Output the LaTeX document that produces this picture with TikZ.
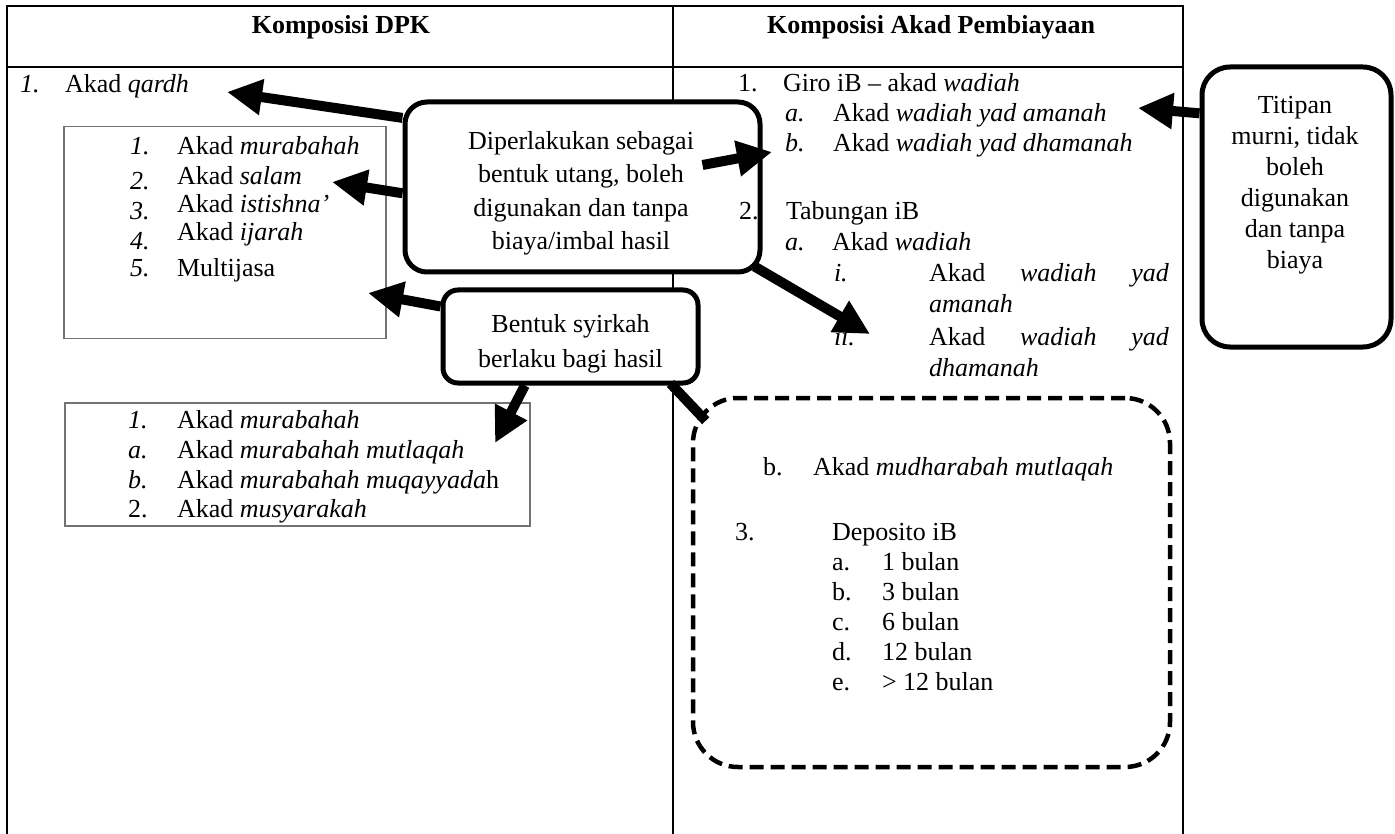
\documentclass[tikz,border=0pt]{standalone}
\usepackage{fontspec}
\setmainfont{Liberation Serif}
\usetikzlibrary{arrows.meta,calc}
\begin{document}
\begin{tikzpicture}[x=1pt,y=-1pt,
  tx/.style={anchor=base west,inner sep=0pt,outer sep=0pt,font=\fontsize{26}{30}\selectfont},
  hdr/.style={anchor=base,inner sep=0pt,font=\fontsize{26}{30}\selectfont\bfseries},
  tbl/.style={line width=1.6pt},
  listbox/.style={draw=black!55,line width=1.2pt,inner sep=0pt},
  callout/.style={draw,line width=5pt,fill=white,inner sep=0pt},
  ctext/.style={align=center,inner sep=0pt},
  dashbox/.style={draw,line width=4.5pt,dash pattern=on 14pt off 7pt,rounded corners=45pt,inner sep=0pt},
  arr/.style={line width=10pt,-{Triangle[length=35pt,width=34pt]}},
  bar/.style={line width=10pt}
]
\useasboundingbox (0,0) rectangle (1395,834);
\fill[white] (0,0) rectangle (1395,834);

% table
\draw[tbl] (7,834) -- (7,6) -- (1183,6) -- (1183,834);
\draw[tbl] (7,67) -- (1183,67);
\draw[tbl] (673,6) -- (673,834);

% boxes
\node[listbox,minimum width=322pt,minimum height=212pt] (lb1) at (225,232.5) {};
\node[listbox,minimum width=465pt,minimum height=123pt] (lb2) at (297.5,464.5) {};
\node[callout,rounded corners=22pt,minimum width=355pt,minimum height=170pt] (dip) at (582.5,187) {};
\node[callout,rounded corners=15pt,minimum width=255pt,minimum height=93pt] (bent) at (570.5,336.5) {};
\node[callout,rounded corners=28pt,minimum width=189pt,minimum height=280pt] (tit) at (1296.5,207) {};
\node[dashbox,minimum width=477pt,minimum height=369pt] (dbox) at (931.5,582.5) {};

% callout texts
\node[ctext,font=\fontsize{26}{33.5}\selectfont] (dipt) at (581,193.5)
  {Diperlakukan sebagai\\bentuk utang, boleh\\digunakan dan tanpa\\biaya/imbal hasil};
\node[ctext,font=\fontsize{26}{35}\selectfont] (bentt) at (570.5,343.3)
  {Bentuk syirkah\\berlaku bagi hasil};
\node[ctext,font=\fontsize{26}{31}\selectfont] (titt) at (1295,185.4)
  {Titipan\\murni, tidak\\boleh\\digunakan\\dan tanpa\\biaya};

% headers
\node[hdr] (hl) at (341,34) {Komposisi DPK};
\node[hdr] (hr) at (931,34) {Komposisi Akad Pembiayaan};

% left column
\node[tx] (q0) at (20,93) {\textit{1.}};
\node[tx] (qardh) at (65,93) {Akad \textit{qardh}};

\node[tx] (m1n) at (130,155) {\textit{1.}};
\node[tx] (m1) at (177,155) {Akad \textit{murabahah}};
\node[tx] (m2n) at (130,190) {\textit{2.}};
\node[tx] (m2) at (177,185) {Akad \textit{salam}};
\node[tx] (m3n) at (130,220) {\textit{3.}};
\node[tx] (m3) at (177,213) {Akad \textit{istishna'}};
\node[tx] (m4n) at (130,250) {\textit{4.}};
\node[tx] (m4) at (177,241) {Akad \textit{ijarah}};
\node[tx] (m5n) at (130,277) {\textit{5.}};
\node[tx] (m5) at (177,277) {Multijasa};

\node[tx] (s1n) at (128,428) {\textit{1.}};
\node[tx] (s1) at (177,428) {Akad \textit{murabahah}};
\node[tx] (s2n) at (128,458) {\textit{a.}};
\node[tx] (s2) at (177,458) {Akad \textit{murabahah mutlaqah}};
\node[tx] (s3n) at (128,488) {\textit{b.}};
\node[tx] (s3) at (177,488) {Akad \textit{murabahah muqayyada}h};
\node[tx] (s4n) at (128,517) {2.};
\node[tx] (s4) at (177,517) {Akad \textit{musyarakah}};

% right column
\node[tx] (g0) at (738,92) {1.};
\node[tx] (g1) at (783,92) {Giro iB -- akad \textit{wadiah}};
\node[tx] (ga) at (785,122) {\textit{a.}};
\node[tx] (gat) at (833,122) {Akad \textit{wadiah yad amanah}};
\node[tx] (gb) at (785,152) {\textit{b.}};
\node[tx] (gbt) at (833,152) {Akad \textit{wadiah yad dhamanah}};

\node[tx] (t0) at (739,220) {2.};
\node[tx] (t1) at (786,220) {Tabungan iB};
\node[tx] (ta) at (785,251) {\textit{a.}};
\node[tx] (tat) at (832,251) {Akad \textit{wadiah}};
\node[tx] (ti) at (834,282) {\textit{i.}};
\node[tx] (tit1) at (929,282) {\makebox[240pt][s]{Akad \textit{wadiah} \textit{yad}}};
\node[tx] (tit2) at (929,313) {\textit{amanah}};
\node[tx] (tii) at (834,345) {\textit{ii.}};
\node[tx] (tii1) at (929,345) {\makebox[240pt][s]{Akad \textit{wadiah} \textit{yad}}};
\node[tx] (tii2) at (929,376) {\textit{dhamanah}};

\node[tx] (mb) at (763,475) {b.};
\node[tx] (mbt) at (813,475) {Akad \textit{mudharabah mutlaqah}};
\node[tx] (d0) at (735,540) {3.};
\node[tx] (d1) at (832,540) {Deposito iB};
\node[tx] (da) at (832,570) {a.};
\node[tx] (dat) at (882,570) {1 bulan};
\node[tx] (db) at (832,600) {b.};
\node[tx] (dbt) at (882,600) {3 bulan};
\node[tx] (dc) at (832,630) {c.};
\node[tx] (dct) at (882,630) {6 bulan};
\node[tx] (dd) at (832,660) {d.};
\node[tx] (ddt) at (882,660) {12 bulan};
\node[tx] (de) at (832,690) {e.};
\node[tx] (det) at (882,690) {> 12 bulan};

% arrow tips
\coordinate (qtip) at (227,92);
\coordinate (saltip) at (332,182);
\coordinate (btip) at (772,152);
\coordinate (iitip) at (870,334);
\coordinate (amtip) at (1138,108);
\coordinate (b1tip) at (368,293);
\coordinate (b2tip) at (495,443);

% connectors
\draw[arr] (dip.159) -- (qtip);
\draw[arr] (dip.182) -- (saltip);
\draw[arr] ($(dip.center)+(120,-22)$) -- (btip);
\draw[arr] ($(dip.south east)+(-8,-8)$) -- (iitip);
\draw[arr] (tit.136.5) -- (amtip);
\draw[arr] (bent.167) -- (b1tip);
\draw[arr] (bent.227.5) -- (b2tip);
\draw[bar] ($(bent.south east)+(-30,-2)$) -- ($(dbox.north west)+(15,25)$);
\end{tikzpicture}
\end{document}
